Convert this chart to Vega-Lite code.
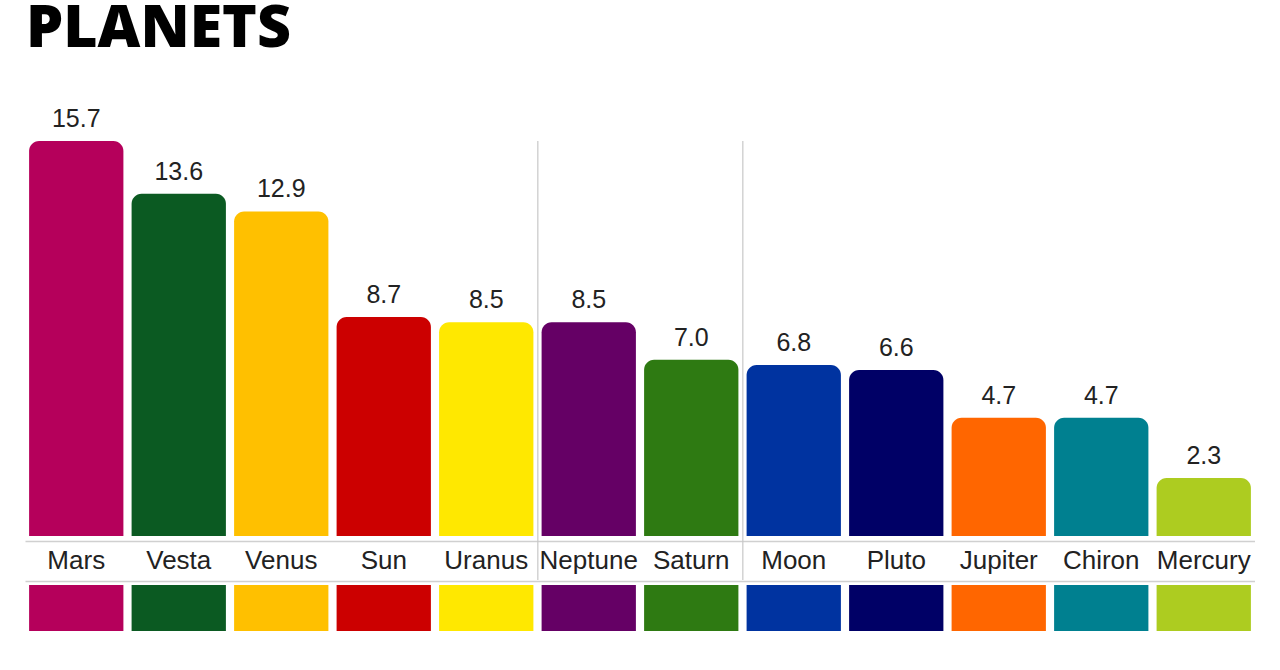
{
  "$schema": "https://vega.github.io/schema/vega-lite/v6.json",
  "background": "white",
  "padding": {"left": 25, "top": 0, "right": 0, "bottom": 0},
  "title": {"text": "PLANETS", "anchor": "start", "font": "Open Sans", "fontSize": 59, "fontWeight": 800, "color": "#000000", "offset": 45, "dx": 1, "dy": -3},
  "spacing": 0,
  "config": {"view": {"stroke": null}, "font": "Liberation Sans"},
  "data": {"values": [
    {"planet": "Mars", "value": 15.7},
    {"planet": "Vesta", "value": 13.6},
    {"planet": "Venus", "value": 12.9},
    {"planet": "Sun", "value": 8.7},
    {"planet": "Uranus", "value": 8.5},
    {"planet": "Neptune", "value": 8.5},
    {"planet": "Saturn", "value": 7.0},
    {"planet": "Moon", "value": 6.8},
    {"planet": "Pluto", "value": 6.6},
    {"planet": "Jupiter", "value": 4.7},
    {"planet": "Chiron", "value": 4.7},
    {"planet": "Mercury", "value": 2.3}
  ]},
  "vconcat": [
    {
      "width": 1230,
      "height": 439,
      "encoding": {
        "x": {"field": "planet", "type": "nominal", "sort": null,
          "scale": {"domain": ["Mars","Vesta","Venus","Sun","Uranus","Neptune","Saturn","Moon","Pluto","Jupiter","Chiron","Mercury"], "paddingInner": 0.08, "paddingOuter": 0.04},
          "axis": {"orient": "bottom", "offset": -39, "title": null, "ticks": false, "tickSize": 0, "domainColor": "#d0d0d0", "domainWidth": 1.5, "labelFontSize": 26, "labelColor": "#222222", "labelPadding": 6, "labelAngle": 0, "labelFont": "Liberation Sans"}}
      },
      "layer": [
        {
          "mark": {"type": "bar", "cornerRadiusTopLeft": 10, "cornerRadiusTopRight": 10},
          "encoding": {
            "y": {"field": "value", "type": "quantitative", "scale": {"domain": [-1.75, 15.7], "nice": false}, "axis": null},
            "y2": {"datum": 0},
            "color": {"field": "planet", "type": "nominal", "legend": null,
              "scale": {"domain": ["Mars","Vesta","Venus","Sun","Uranus","Neptune","Saturn","Moon","Pluto","Jupiter","Chiron","Mercury"],
                "range": ["#B5005B","#0B5A22","#FFC000","#CC0000","#FFE800","#650065","#2E7A12","#0033A0","#000066","#FF6600","#008090","#ADCC20"]}}
          }
        },
        {
          "mark": {"type": "text", "baseline": "alphabetic", "dy": -14, "fontSize": 25, "color": "#222222", "font": "Liberation Sans"},
          "encoding": {
            "y": {"field": "value", "type": "quantitative"},
            "text": {"field": "value", "type": "quantitative", "format": ".1f"}
          }
        },
        {
          "transform": [{"filter": "datum.planet === 'Neptune' || datum.planet === 'Moon'"}],
          "mark": {"type": "rule", "color": "#c8c8c8", "strokeWidth": 1.2},
          "encoding": {"x": {"field": "planet", "type": "nominal", "sort": null, "bandPosition": -0.04}}
        }
      ]
    },
    {
      "width": 1230,
      "height": 46,
      "mark": {"type": "bar"},
      "encoding": {
        "x": {"field": "planet", "type": "nominal", "sort": null,
          "scale": {"domain": ["Mars","Vesta","Venus","Sun","Uranus","Neptune","Saturn","Moon","Pluto","Jupiter","Chiron","Mercury"], "paddingInner": 0.08, "paddingOuter": 0.04},
          "axis": {"orient": "top", "offset": 4, "title": null, "ticks": false, "tickSize": 0, "labels": false, "domainColor": "#d0d0d0", "domainWidth": 1.5}},
        "color": {"field": "planet", "type": "nominal", "legend": null,
          "scale": {"domain": ["Mars","Vesta","Venus","Sun","Uranus","Neptune","Saturn","Moon","Pluto","Jupiter","Chiron","Mercury"],
            "range": ["#B5005B","#0B5A22","#FFC000","#CC0000","#FFE800","#650065","#2E7A12","#0033A0","#000066","#FF6600","#008090","#ADCC20"]}}
      }
    }
  ]
}
